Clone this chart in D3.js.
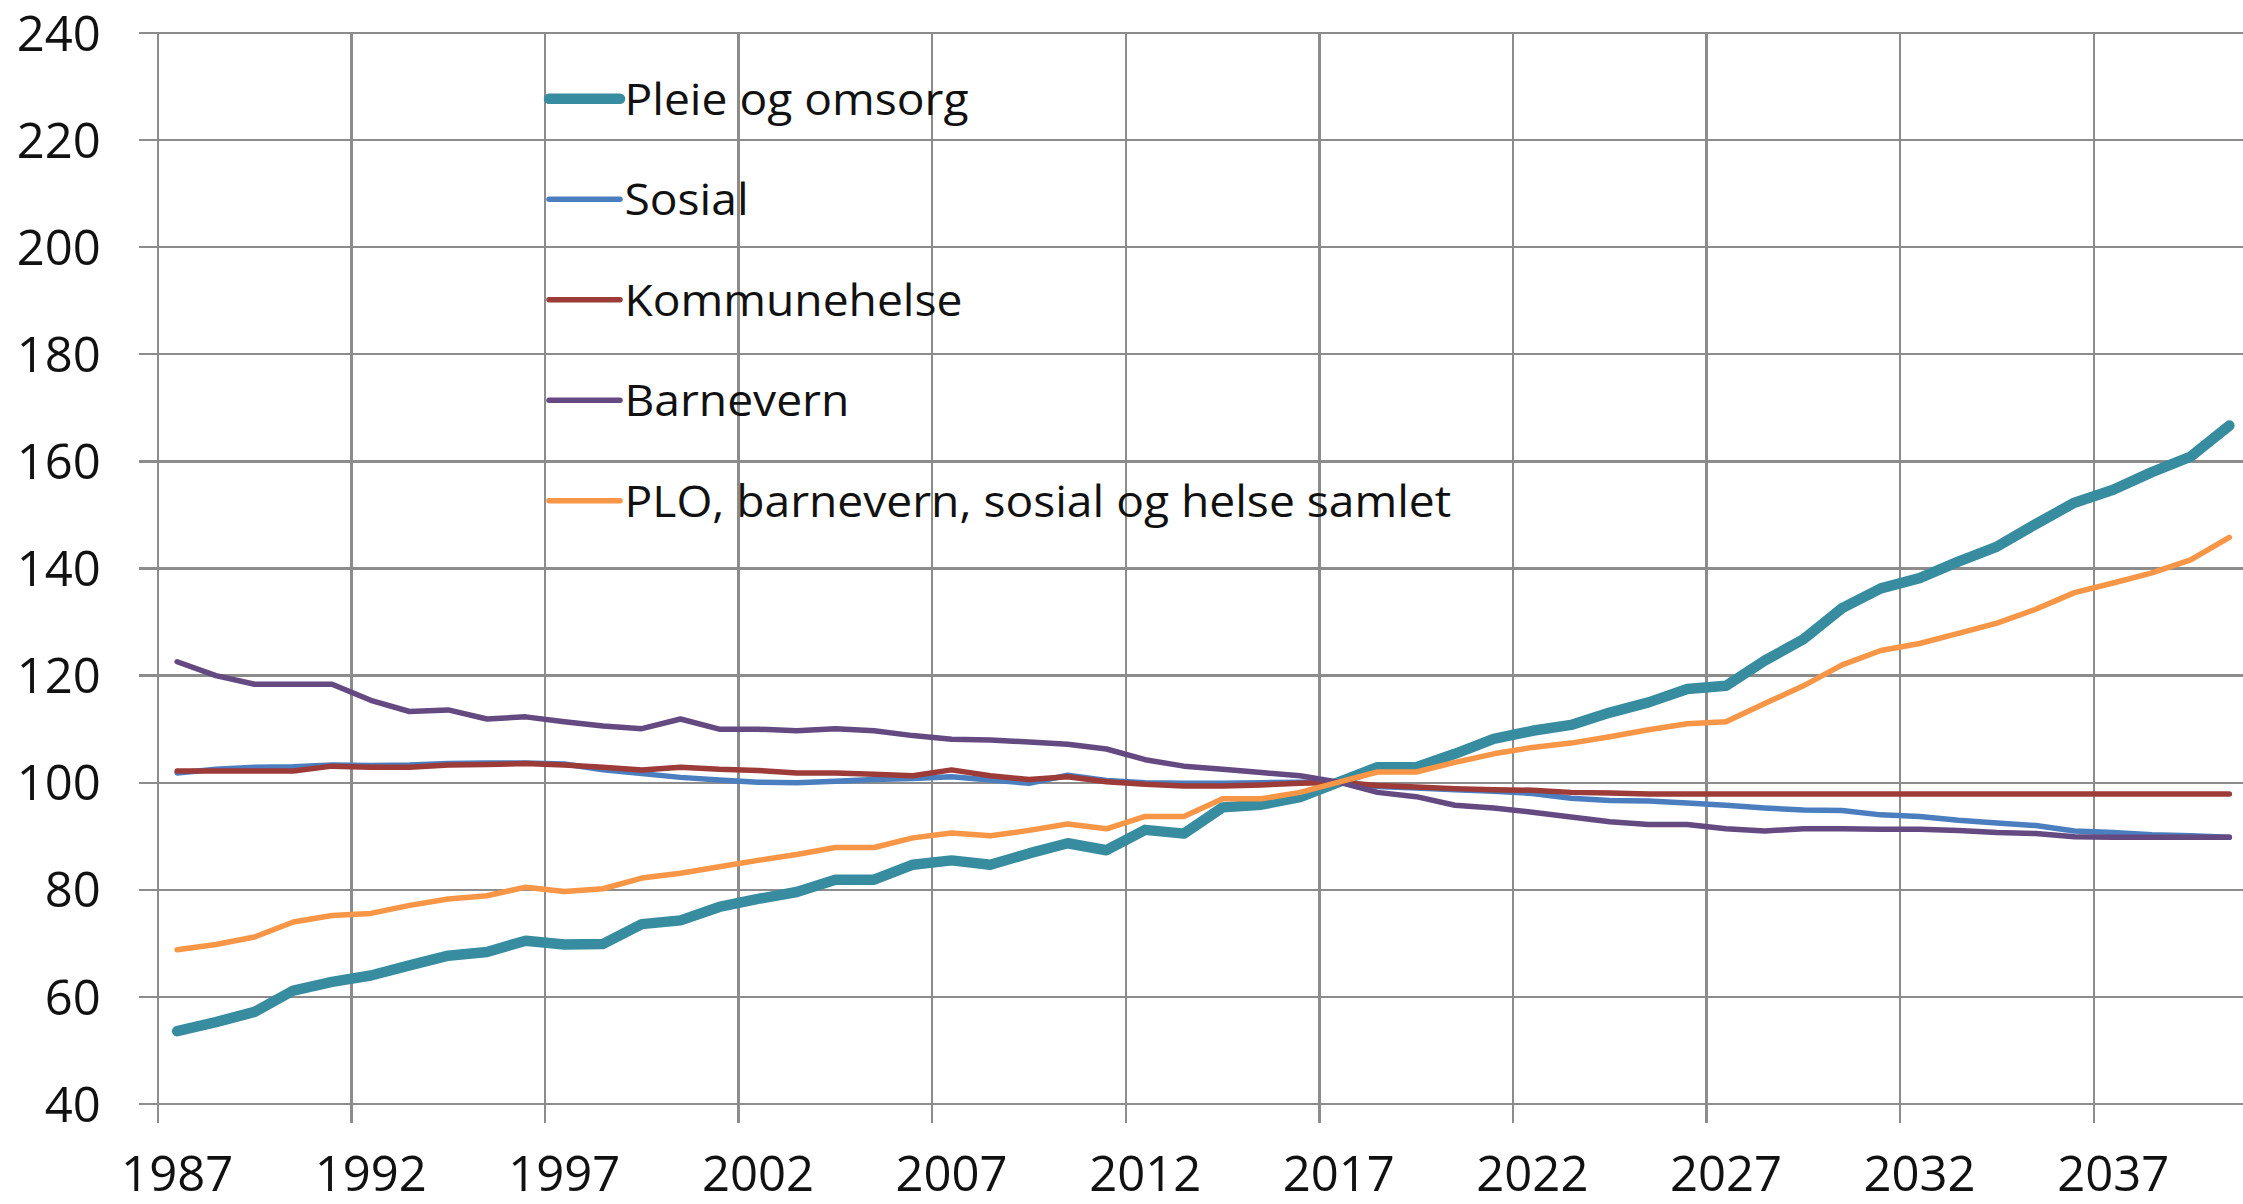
<!DOCTYPE html>
<html>
    <head>
        <meta charset="utf-8">
        <title>Kommunale tjenester, indeks 2017 = 100</title>
        <style>
body {
    margin: 0;
    background-color: white;
}

svg {
    display: block;
    background-color: white;
}

.axis-text {
    font-family: 'Open Sans', sans-serif;
    font-size: 49px;
    fill: #111;
}

.legend-text {
    font-family: 'Open Sans', sans-serif;
    font-size: 44px;
    fill: #111;
}

.grid {
    stroke: #8c8c8c;
    stroke-width: 2.3;
    shape-rendering: crispEdges;
}

.series {
    fill: none;
    stroke-linejoin: round;
    stroke-linecap: round;
}
        </style>
        <script src="https://cdn.jsdelivr.net/npm/d3@7"></script>
    </head>
    <body>
        <script>
// categories: one per year, 1987-2040
var years = d3.range(1987, 2041);
var yearTicks = [1987, 1992, 1997, 2002, 2007, 2012, 2017, 2022, 2027, 2032, 2037];
var valueTicks = [40, 60, 80, 100, 120, 140, 160, 180, 200, 220, 240];

var seriesNames = ["Pleie og omsorg", "Sosial", "Kommunehelse", "Barnevern", "PLO, barnevern, sosial og helse samlet"];

var pleie = [53.5, 55.2, 57.1, 61.1, 62.7, 63.9, 65.8, 67.6, 68.3, 70.4,
    69.7, 69.8, 73.5, 74.2, 76.7, 78.2, 79.5, 81.8, 81.8, 84.6,
    85.4, 84.6, 86.7, 88.6, 87.3, 91.1, 90.4, 95.3, 95.8, 97.2,
    100, 102.8, 102.8, 105.3, 108.1, 109.6, 110.7, 113.0, 114.9, 117.4,
    118.0, 122.7, 126.7, 132.5, 136.2, 138.1, 141.2, 144.0, 148.2, 152.2,
    154.6, 157.9, 160.8, 166.6];

var sosial = [101.7, 102.4, 102.8, 102.9, 103.2, 103.1, 103.2, 103.5, 103.6, 103.6,
    103.4, 102.3, 101.6, 100.9, 100.4, 100.0, 99.9, 100.2, 100.5, 100.7,
    101.0, 100.4, 99.8, 101.3, 100.3, 99.9, 99.8, 99.8, 99.9, 100.0,
    100, 99.2, 98.9, 98.6, 98.3, 97.9, 97.0, 96.6, 96.5, 96.1,
    95.7, 95.2, 94.8, 94.7, 93.9, 93.6, 92.9, 92.4, 91.9, 90.9,
    90.6, 90.2, 90.0, 89.7];

var kommunehelse = [102.1, 102.1, 102.1, 102.1, 103.0, 102.8, 102.8, 103.2, 103.3, 103.5,
    103.2, 102.8, 102.3, 102.8, 102.4, 102.2, 101.7, 101.7, 101.5, 101.2,
    102.3, 101.2, 100.5, 101.0, 100.1, 99.6, 99.3, 99.3, 99.5, 99.8,
    100, 99.4, 99.1, 98.8, 98.6, 98.5, 98.1, 98.0, 97.8, 97.8,
    97.8, 97.8, 97.8, 97.8, 97.8, 97.8, 97.8, 97.8, 97.8, 97.8,
    97.8, 97.8, 97.8, 97.8];

var barnevern = [122.5, 119.9, 118.3, 118.3, 118.3, 115.3, 113.2, 113.5, 111.8, 112.2,
    111.3, 110.5, 110.0, 111.8, 109.9, 109.9, 109.6, 110.0, 109.6, 108.7,
    108.0, 107.9, 107.5, 107.1, 106.2, 104.2, 103.0, 102.4, 101.8, 101.2,
    100, 98.1, 97.3, 95.7, 95.2, 94.4, 93.5, 92.6, 92.1, 92.1,
    91.3, 90.9, 91.3, 91.3, 91.2, 91.2, 91.0, 90.6, 90.4, 89.8,
    89.7, 89.7, 89.7, 89.7];

var samlet = [68.7, 69.7, 71.1, 73.9, 75.1, 75.5, 77.0, 78.2, 78.8, 80.4,
    79.6, 80.1, 82.1, 83.0, 84.2, 85.4, 86.5, 87.8, 87.8, 89.6,
    90.5, 90.0, 91.0, 92.2, 91.3, 93.6, 93.6, 96.9, 96.9, 98.1,
    100, 101.9, 101.9, 103.7, 105.3, 106.5, 107.3, 108.5, 109.8, 110.9,
    111.3, 114.7, 118.0, 121.9, 124.6, 125.9, 127.8, 129.7, 132.3, 135.4,
    137.2, 139.1, 141.5, 145.7];

var seriesValues = [pleie, sosial, kommunehelse, barnevern, samlet];
var seriesColors = ["#378c9f", "#4a7ebf", "#9d3b39", "#654a82", "#f79646"];
var seriesWidths = [10.5, 5.5, 5.5, 5.5, 5.5];

var width = 2243,
    height = 1204;

// plot area (right edge runs just past the picture, as in the original)
var plotLeft = 157.8,
    plotRight = 2248.7,
    plotTop = 32.5,
    plotBottom = 1103.5,
    tickLen = 19;

var svg = d3.select('body')
    .append('svg')
    .attr('width', width)
    .attr('height', height);

// integer years sit in the middle of each category
var x = d3.scaleLinear()
    .domain([years[0] - 0.5, years[years.length - 1] + 0.5])
    .range([plotLeft, plotRight]);

var y = d3.scaleLinear()
    .domain([40, 240])
    .range([plotBottom, plotTop]);

// horizontal gridlines + y labels
var yAxis = svg.append("g")
    .attr("transform", "translate(" + (plotLeft - tickLen) + ",0)")
    .call(d3.axisLeft(y)
        .tickValues(valueTicks)
        .tickSize(-(plotRight - plotLeft + tickLen))
        .tickPadding(38)
        .tickFormat(d3.format("d")));
yAxis.select(".domain").remove();
yAxis.selectAll("line").attr("class", "grid").attr("stroke", null);
yAxis.selectAll("text")
    .attr("class", "axis-text")
    .attr("dy", "0.36em")
    .attr("fill", null);
yAxis.attr("font-family", null).attr("font-size", null);

// vertical gridlines on category boundaries, every fifth year
svg.append("g")
    .selectAll("line")
    .data(yearTicks.concat([2042]))
    .join("line")
    .attr("class", "grid")
    .attr("x1", function (d) { return x(d - 0.5); })
    .attr("x2", function (d) { return x(d - 0.5); })
    .attr("y1", y(240))
    .attr("y2", plotBottom + tickLen);

// x labels centred under their year
svg.append("g")
    .selectAll("text")
    .data(yearTicks)
    .join("text")
    .attr("class", "axis-text")
    .attr("text-anchor", "middle")
    .attr("x", function (d) { return x(d); })
    .attr("y", 1191)
    .text(function (d) { return d; });

// the lines
var line = d3.line()
    .x(function (d, i) { return x(years[i]); })
    .y(function (d) { return y(d); });

svg.append("g")
    .selectAll("path")
    .data(seriesValues)
    .join("path")
    .attr("class", "series")
    .attr("d", line)
    .attr("stroke", function (d, i) { return seriesColors[i]; })
    .attr("stroke-width", function (d, i) { return seriesWidths[i]; });

// legend
var legendX = 549,
    legendY = 98.8,
    legendStep = 100.5,
    legendTextWidth = 827;

var legend = svg.append("g");
var items = legend.selectAll("g")
    .data(seriesNames)
    .join("g")
    .attr("transform", function (d, i) { return "translate(" + legendX + "," + (legendY + i * legendStep) + ")"; });

items.append("line")
    .attr("x1", 0)
    .attr("x2", 71)
    .attr("stroke", function (d, i) { return seriesColors[i]; })
    .attr("stroke-width", function (d, i) { return seriesWidths[i]; })
    .attr("stroke-linecap", "round");

var labels = items.append("text")
    .attr("class", "legend-text")
    .attr("dy", "0.36em")
    .text(function (d) { return d; });

// squeeze the labels a little so the longest one spans the same width as in the original
var longest = d3.max(labels.nodes(), function (n) { return n.getComputedTextLength(); });
var sx = legendTextWidth / longest;
labels.attr("transform", "translate(75.5,0) scale(" + sx + ",1)");

        </script>
    </body>
</html>
